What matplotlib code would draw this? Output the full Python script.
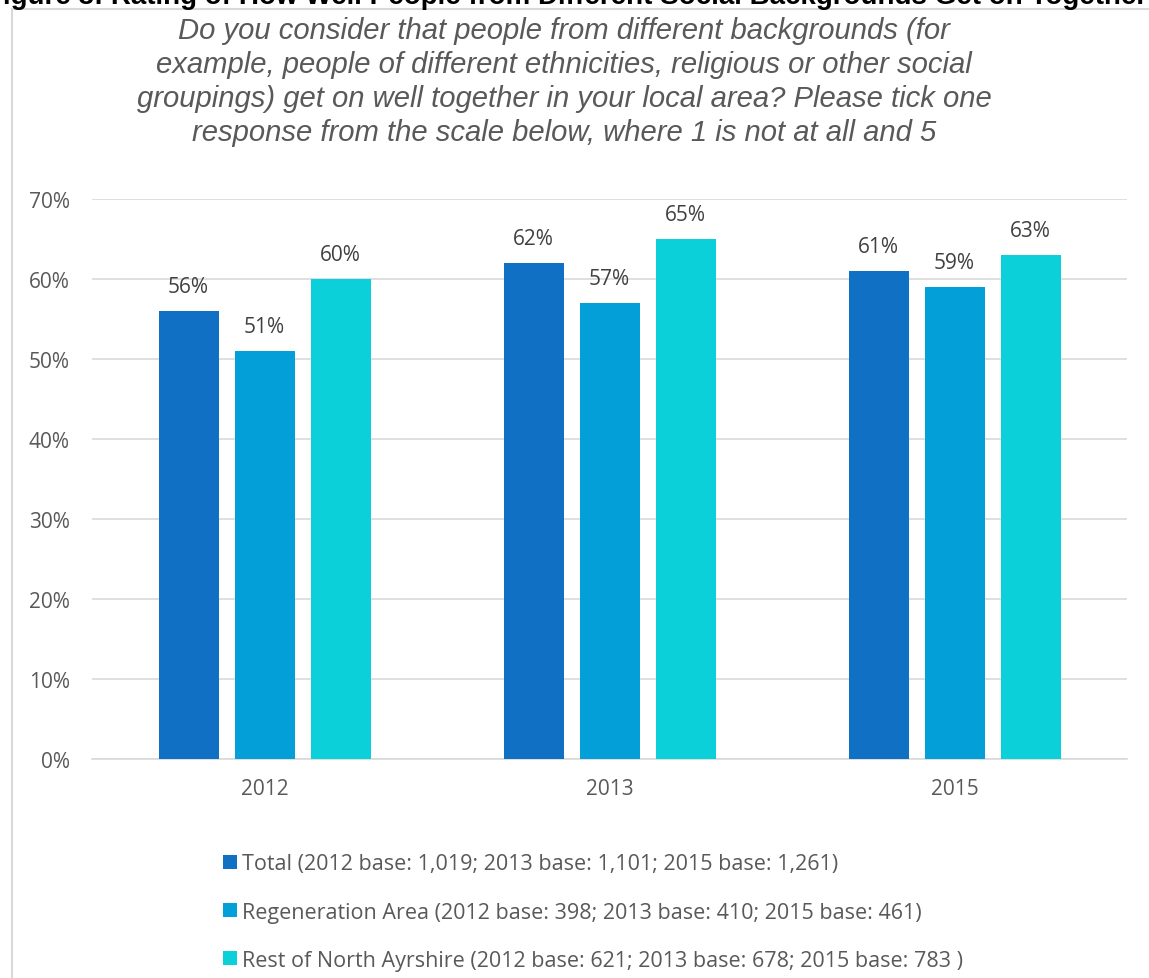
import matplotlib.pyplot as plt
import numpy as np
from matplotlib.patches import Rectangle

years = ["2012", "2013", "2015"]
series = [
    "Total (2012 base: 1,019; 2013 base: 1,101; 2015 base: 1,261)",
    "Regeneration Area (2012 base: 398; 2013 base: 410; 2015 base: 461)",
    "Rest of North Ayrshire (2012 base: 621; 2013 base: 678; 2015 base: 783 )",
]
total = [56, 62, 61]
regen = [51, 57, 59]
rest = [60, 65, 63]
colors = ["#1070C4", "#029FD8", "#0BCFD9"]

title = "Figure 3: Rating of How Well People from Different Social Backgrounds Get on Together"
subtitle = ("Do you consider that people from different backgrounds (for\n"
            "example, people of different ethnicities, religious or other social\n"
            "groupings) get on well together in your local area? Please tick one\n"
            "response from the scale below, where 1 is not at all and 5")

fig = plt.figure(figsize=(11.49, 9.79), dpi=100)
W, H = 1149, 979

# chart border
fig.patches.append(Rectangle((12 / W, -0.05), 1.1, 1 - 10 / H + 0.05, transform=fig.transFigure,
                             facecolor="white", edgecolor="#D9D9D9", linewidth=1.5, zorder=-5))

fig.text(-0.012, 1 - 3.5 / H, title, fontsize=20, fontweight="bold", family="Liberation Sans",
         ha="left", va="baseline", color="black")
fig.text(564 / W, 1 - 17 / H, subtitle, fontsize=21.1, style="italic", family="Liberation Sans",
         ha="center", va="top", color="#595959", linespacing=1.27)

ax = fig.add_axes([92 / W, 1 - 760 / H, (1127 - 92) / W, (760 - 200) / H])
ax.set_facecolor("none")
x = np.arange(len(years))
width = 60 / 345
step = 76 / 345
for i, (vals, col) in enumerate(zip([total, regen, rest], colors)):
    bars = ax.bar(x + (i - 1) * step, vals, width, color=col, label=series[i], zorder=3)
    for b, v in zip(bars, vals):
        ax.text(b.get_x() + b.get_width() / 2, v + 1.8, f"{v}%", ha="center", va="bottom",
                fontsize=15, color="#404040", family="Open Sans")

ax.set_xlim(-0.5, 2.5)
ax.set_ylim(0, 70)
ax.set_yticks(range(0, 71, 10))
ax.set_yticklabels([f"{t}%" for t in range(0, 71, 10)])
ax.set_xticks(x)
ax.set_xticklabels(years)
ax.yaxis.grid(True, color="#D9D9D9", linewidth=1.2, zorder=0)
for s in ["top", "right", "left"]:
    ax.spines[s].set_visible(False)
ax.spines["bottom"].set_color("#D9D9D9")
ax.spines["bottom"].set_linewidth(1.2)
ax.tick_params(axis="both", length=0, labelsize=15, labelcolor="#595959")
ax.tick_params(axis="y", pad=16)
ax.tick_params(axis="x", pad=14)
for lab in ax.get_xticklabels() + ax.get_yticklabels():
    lab.set_family("Open Sans")

fig.legend(loc="upper left", bbox_to_anchor=(204 / W, 1 - 835 / H), frameon=False,
           prop={"family": "Open Sans", "size": 15.5}, labelcolor="#595959",
           handlelength=0.65, handleheight=0.65, handletextpad=0.23, labelspacing=1.26)

fig.savefig("out.png", dpi=100)
